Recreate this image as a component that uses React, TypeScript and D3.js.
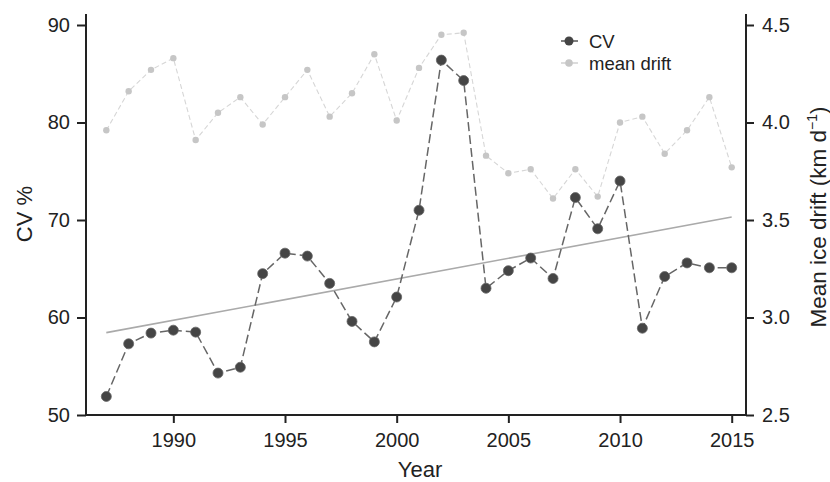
import { useEffect, useRef } from "react";
import * as d3 from "d3";

const years = [
  1987, 1988, 1989, 1990, 1991, 1992, 1993, 1994, 1995, 1996, 1997, 1998, 1999, 2000, 2001,
  2002, 2003, 2004, 2005, 2006, 2007, 2008, 2009, 2010, 2011, 2012, 2013, 2014, 2015,
];
const cv = [
  51.9, 57.3, 58.4, 58.7, 58.5, 54.3, 54.9, 64.5, 66.6, 66.3, 63.5, 59.6, 57.5, 62.1, 71.0,
  86.4, 84.3, 63.0, 64.8, 66.1, 64.0, 72.3, 69.1, 74.0, 58.9, 64.2, 65.6, 65.1, 65.1,
];
const meanDrift = [
  3.96, 4.16, 4.27, 4.33, 3.91, 4.05, 4.13, 3.99, 4.13, 4.27, 4.03, 4.15, 4.35, 4.01, 4.28,
  4.45, 4.46, 3.83, 3.74, 3.76, 3.61, 3.76, 3.62, 4.0, 4.03, 3.84, 3.96, 4.13, 3.77,
];
// CV linear trend, at first and last year
const trend = [
  { year: 1987, value: 58.45 },
  { year: 2015, value: 70.3 },
];
const xTicks = [1990, 1995, 2000, 2005, 2010, 2015];
const leftTicks = [50, 60, 70, 80, 90];
const rightTicks = [2.5, 3.0, 3.5, 4.0, 4.5];

const W = 830;
const H = 482;
const FONT = "'Liberation Sans', Arial, sans-serif";

export default function App() {
  const svgRef = useRef<SVGSVGElement>(null);

  useEffect(() => {
    if (!svgRef.current) return;
    const svg = d3.select(svgRef.current);
    svg.selectAll("*").remove();

    const left = 86, right = 746, top = 14, bottom = 415;

    const x = d3.scaleLinear().domain([1986.09, 2015.64]).range([left, right]);
    const yL = d3.scaleLinear().domain([50, 90]).range([bottom, 25]);
    const yR = d3.scaleLinear().domain([2.5, 4.5]).range([bottom, 25]);

    const g = svg.append("g");

    // trend line
    g.append("path")
      .datum(trend)
      .attr("fill", "none")
      .attr("stroke", "#aaaaaa")
      .attr("stroke-width", 1.6)
      .attr("d", d3.line<any>().x(d => x(d.year)).y(d => yL(d.value)));

    // mean drift
    const drift = years.map((yr, i) => ({ yr, v: meanDrift[i] }));
    g.append("path")
      .datum(drift)
      .attr("fill", "none")
      .attr("stroke", "#d6d6d6")
      .attr("stroke-width", 1.1)
      .attr("stroke-dasharray", "5,3")
      .attr("d", d3.line<any>().x(d => x(d.yr)).y(d => yR(d.v)));
    g.selectAll(".drift")
      .data(drift)
      .enter()
      .append("circle")
      .attr("cx", d => x(d.yr))
      .attr("cy", d => yR(d.v))
      .attr("r", 3.2)
      .attr("fill", "#c6c6c6");

    // CV
    const cvData = years.map((yr, i) => ({ yr, v: cv[i] }));
    g.append("path")
      .datum(cvData)
      .attr("fill", "none")
      .attr("stroke", "#666666")
      .attr("stroke-width", 1.5)
      .attr("stroke-dasharray", "9,4")
      .attr("d", d3.line<any>().x(d => x(d.yr)).y(d => yL(d.v)));
    g.selectAll(".cv")
      .data(cvData)
      .enter()
      .append("circle")
      .attr("cx", d => x(d.yr))
      .attr("cy", d => yL(d.v))
      .attr("r", 5)
      .attr("fill", "#454545")
      .attr("stroke", "#666")
      .attr("stroke-width", 0.8);

    // axes
    const styleAxis = (sel: any) => {
      sel.select(".domain").remove();
      sel.selectAll("line").attr("stroke", "#222").attr("stroke-width", 2);
      sel.selectAll("text").attr("fill", "#222").attr("font-family", FONT).attr("font-size", 20);
    };

    svg.append("g")
      .attr("transform", `translate(0,${bottom})`)
      .call(d3.axisBottom(x).tickValues(xTicks).tickFormat(d3.format("d")).tickSize(8).tickPadding(10))
      .call(styleAxis);
    svg.append("g")
      .attr("transform", `translate(${left},0)`)
      .call(d3.axisLeft(yL).tickValues(leftTicks).tickSize(9).tickPadding(7))
      .call(styleAxis);
    svg.append("g")
      .attr("transform", `translate(${right},0)`)
      .call(d3.axisRight(yR).tickValues(rightTicks).tickFormat(d3.format(".1f")).tickSize(8).tickPadding(8))
      .call(styleAxis);

    // axis lines
    svg.append("line").attr("x1", left).attr("x2", left).attr("y1", top).attr("y2", bottom + 1)
      .attr("stroke", "#222").attr("stroke-width", 2);
    svg.append("line").attr("x1", right).attr("x2", right).attr("y1", top).attr("y2", bottom + 1)
      .attr("stroke", "#222").attr("stroke-width", 2);
    svg.append("line").attr("x1", left - 1).attr("x2", right + 1).attr("y1", bottom).attr("y2", bottom)
      .attr("stroke", "#222").attr("stroke-width", 2);

    // titles
    svg.append("text")
      .attr("x", 420)
      .attr("y", 477)
      .attr("text-anchor", "middle")
      .attr("font-family", FONT)
      .attr("font-size", 22)
      .attr("fill", "#222")
      .text("Year");
    svg.append("text")
      .attr("transform", `translate(32,214) rotate(-90)`)
      .attr("text-anchor", "middle")
      .attr("font-family", FONT)
      .attr("font-size", 22)
      .attr("fill", "#222")
      .text("CV %");
    const rt = svg.append("text")
      .attr("transform", `translate(826,217) rotate(-90)`)
      .attr("text-anchor", "middle")
      .attr("font-family", FONT)
      .attr("font-size", 22.5)
      .attr("fill", "#222");
    rt.append("tspan").text("Mean ice drift (km d");
    rt.append("tspan").attr("font-size", 14).attr("dy", -9).text("\u22121");
    rt.append("tspan").attr("dy", 9).text(")");

    // legend
    const legend = [
      { label: "CV", line: "#555", fill: "#454545", r: 4.5 },
      { label: "mean drift", line: "#d0d0d0", fill: "#c6c6c6", r: 3.8 },
    ];
    legend.forEach((l, i) => {
      const ly = 41 + i * 22;
      svg.append("line").attr("x1", 561).attr("x2", 578).attr("y1", ly).attr("y2", ly)
        .attr("stroke", l.line).attr("stroke-width", 1.5);
      svg.append("circle").attr("cx", 569).attr("cy", ly).attr("r", l.r).attr("fill", l.fill);
      svg.append("text")
        .attr("x", 589)
        .attr("y", ly + 6.5)
        .attr("font-family", FONT)
        .attr("font-size", 18.5)
        .attr("fill", "#222")
        .text(l.label);
    });
  }, []);

  return (
    <svg
      ref={svgRef}
      width={W}
      height={H}
      style={{ position: "absolute", top: 0, left: 0, display: "block" }}
    />
  );
}
